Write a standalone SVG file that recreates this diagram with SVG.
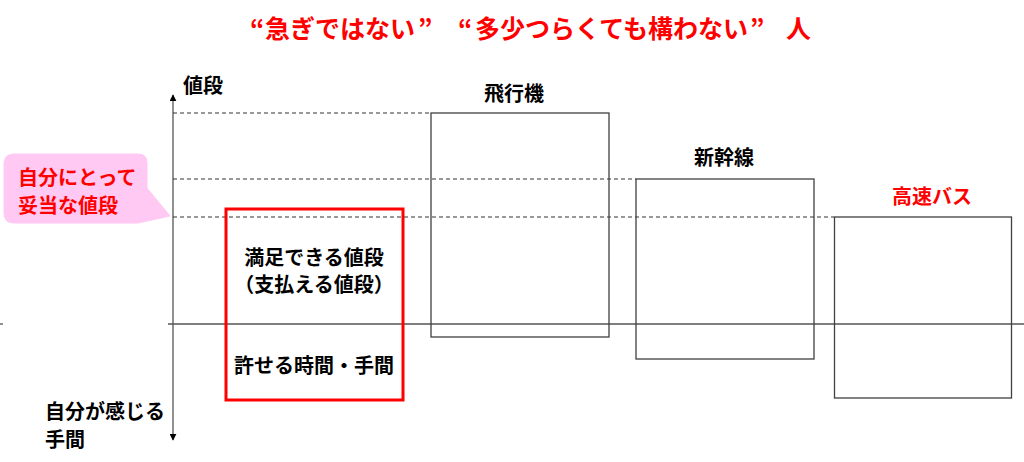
<svg xmlns="http://www.w3.org/2000/svg" width="1024" height="462" viewBox="0 0 1024 462">
<style>
text{font-family:"Noto Sans CJK JP","Noto Sans",sans-serif;font-weight:bold;dominant-baseline:central}
.lbl{font-size:20px;fill:#000}
.red{fill:#ff0000}
.box{fill:none;stroke:#404040;stroke-width:1.3}
.dash{stroke:#333;stroke-width:1;stroke-dasharray:4 3;fill:none}
.axis{stroke:#555;stroke-width:1.3;fill:none}
</style>
<defs>
<marker id="ah" viewBox="0 0 10 10" refX="9" refY="5" markerWidth="7" markerHeight="7" orient="auto-start-reverse" markerUnits="userSpaceOnUse">
<path d="M0,0 L10,5 L0,10 z" fill="#000"/>
</marker>
</defs>
<rect width="1024" height="462" fill="#fff"/>
<text class="red" y="27" style="font-size:25px"><tspan x="250">“</tspan><tspan x="265">急ぎではない</tspan><tspan x="418">”</tspan><tspan x="458">“</tspan><tspan x="475">多少つらくても構わない</tspan><tspan x="750">”</tspan><tspan x="786">人</tspan></text>
<g id="connectors">
<line class="axis" x1="173" y1="440" x2="173" y2="95" marker-end="url(#ah)" marker-start="url(#ah)"/>
<line class="axis" x1="168" y1="324" x2="1024" y2="324"/>
<line class="axis" x1="0" y1="324" x2="3" y2="324"/>
<line class="dash" x1="173" y1="113" x2="431" y2="113"/>
<line class="dash" x1="173" y1="179" x2="636" y2="179"/>
<line class="dash" x1="173" y1="217" x2="834" y2="217"/>
</g>
<g id="axis-labels">
<text class="lbl" x="183" y="84">値段</text>
<text class="lbl" x="45" y="410">自分が感じる</text>
<text class="lbl" x="45" y="438">手間</text>
</g>
<g id="callout">
<path d="M14,154 H138 Q147,154 147,163 V188 L170,216 L138,223 H14 Q4,223 4,213 V164 Q4,154 14,154 Z" fill="#ffc9f4" stroke="#ffc9f4" stroke-width="1"/>
<text class="lbl red" x="18" y="176">自分にとって</text>
<text class="lbl red" x="18" y="204">妥当な値段</text>
</g>
<g id="airplane">
<rect class="box" x="431" y="113" width="178" height="224"/>
<text class="lbl" x="514" y="92" text-anchor="middle">飛行機</text>
</g>
<g id="shinkansen">
<rect class="box" x="636" y="179" width="178" height="180"/>
<text class="lbl" x="724" y="156" text-anchor="middle">新幹線</text>
</g>
<g id="bus">
<rect class="box" x="834.5" y="217" width="177" height="181"/>
<text class="lbl red" x="932" y="195" text-anchor="middle">高速バス</text>
</g>
<g id="acceptable">
<rect x="226" y="209" width="177" height="191" fill="none" stroke="#ff0000" stroke-width="3"/>
<text class="lbl" x="314" y="256" text-anchor="middle">満足できる値段</text>
<text class="lbl" x="314" y="283" text-anchor="middle">（支払える値段）</text>
<text class="lbl" x="314" y="364" text-anchor="middle">許せる時間・手間</text>
</g>
</svg>
